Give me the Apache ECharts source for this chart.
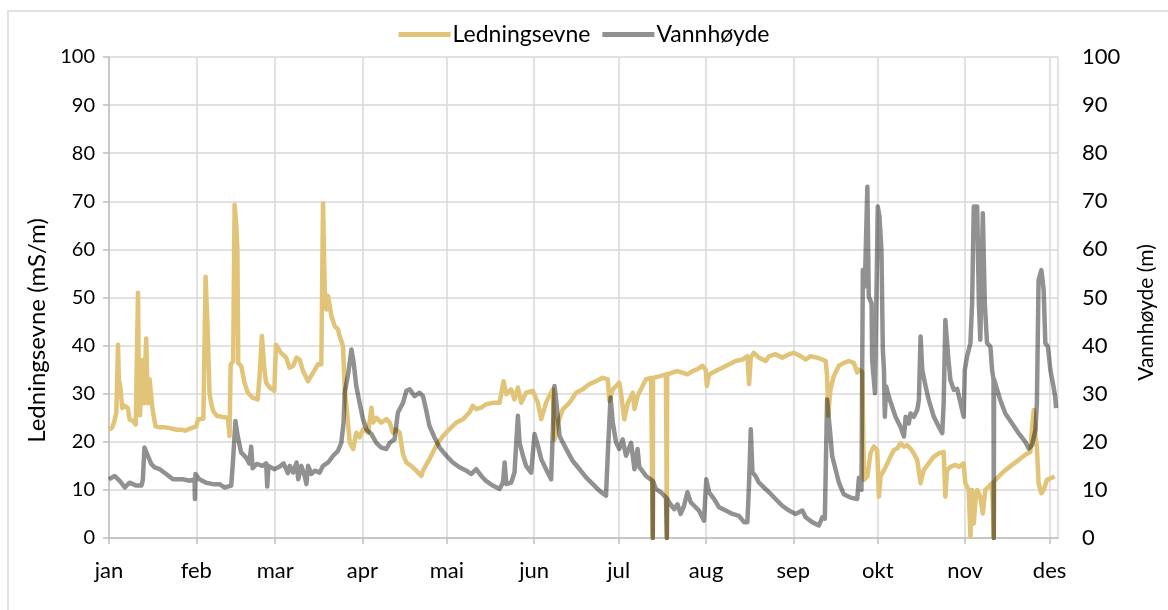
<!DOCTYPE html>
<html>
<head>
<meta charset="utf-8">
<title>Ledningsevne og vannhøyde</title>
<script src="https://cdn.jsdelivr.net/npm/echarts@6/dist/echarts.min.js"></script>
<style>
  html, body { margin: 0; padding: 0; background: #fff; }
  #chart { width: 1168px; height: 610px; }
</style>
</head>
<body>
<div id="chart"></div>
<script>
// x = dag i året (0 = 1. jan)
var months = ['jan', 'feb', 'mar', 'apr', 'mai', 'jun', 'jul', 'aug', 'sep', 'okt', 'nov', 'des']
var monthStart = [0, 31, 59, 90, 120, 151, 181, 212, 243, 273, 304, 334]

// Ledningsevne (mS/m), [dag, verdi]
var ledningsevne = [
  [0, 22.5], [1.2, 23], [2.0, 24.5], [2.6, 26], [3.2, 40.2], [3.5, 33], [4.0, 31.5], [4.7, 27],
  [5.6, 27.5], [6.7, 27], [7.3, 24.7], [8.5, 24.3], [9.5, 23.6], [10.0, 24], [10.3, 51], [10.6, 30],
  [11.0, 25.5], [11.8, 37], [12.4, 28], [13.2, 41.5], [13.8, 28], [14.4, 33], [15.4, 27], [16.5, 23.2],
  [18, 23], [20, 23], [22, 22.8], [24, 22.5], [26, 22.5], [27, 22.3], [29, 22.8], [31, 23.2],
  [31.6, 24.7], [33.5, 24.8], [34.3, 54.3], [35.0, 44], [35.7, 30], [36.3, 28], [37, 26.4], [38.2, 25.4],
  [40, 25.2], [42.2, 25], [42.8, 21.2], [43.2, 36], [44.1, 36.8], [44.6, 69.3], [45.2, 65], [45.6, 60],
  [45.9, 36.4], [47, 35.7], [48.1, 32.3], [49.3, 30.2], [51, 29.2], [52.8, 28.8], [53.4, 33], [54.3, 42],
  [55.2, 35], [55.8, 32.3], [57, 31.3], [58.7, 30.6], [59.3, 40.2], [61.1, 38.5], [62.9, 37.5], [64.1, 35.4],
  [65.4, 35.8], [66.6, 37.5], [67.7, 37.1], [68.9, 34.7], [70.7, 32.6], [72.5, 34.4], [74.2, 36.1], [75.4, 36.1],
  [76.0, 69.6], [76.6, 51.7], [77.2, 47.5], [77.8, 50.3], [79, 46.1], [80.2, 44], [81.3, 43.4], [81.9, 42],
  [83.1, 39.9], [83.7, 31], [84.3, 27.5], [85.5, 19.8], [86.7, 18.5], [87.8, 21.9], [89, 20.9], [90.2, 22.6],
  [92, 21.9], [93.2, 27.1], [93.8, 24], [94.9, 25], [96.7, 24], [98.5, 24.7], [99.7, 24], [100.8, 21.9],
  [102, 22.6], [103.2, 21.9], [104.4, 17.4], [105.6, 15.7], [107.3, 15], [109.1, 14], [110.9, 12.9], [111.5, 14],
  [113.8, 16.4], [116.2, 19.2], [118.6, 21.2], [120.9, 22.6], [123.3, 24], [125.7, 24.7], [128, 26.1], [129.2, 27.5],
  [130.4, 26.8], [132.2, 27.1], [133.9, 27.8], [136.3, 28.1], [138.7, 28.1], [140.1, 32.6], [141.1, 29.9], [142.8, 30.9],
  [144, 28.8], [145.2, 31.3], [146.4, 28.1], [148.1, 30.2], [150.5, 30.6], [152.3, 28.1], [153.5, 24.7], [155.2, 28.1],
  [156.4, 29.5], [157.6, 30.9], [158.2, 20.5], [159.4, 24], [161.2, 26.8], [163.5, 28.1], [165.9, 30.2], [168.2, 30.9],
  [170.6, 32], [173, 32.6], [175.3, 33.3], [177.1, 33], [177.7, 28.5], [178.9, 30.9], [180.1, 31.6], [181.2, 32.3],
  [181.8, 30.2], [183, 24.7], [184.2, 28], [186, 30.2], [186.6, 26.8], [187.7, 29.5], [189.5, 31.6], [190.7, 33],
  [192.5, 33.3], [193.0, 33.3], [193.1, 0], [193.2, 33.3], [196.0, 33.7], [197.8, 34], [198.0, 34], [198.1, 0],
  [198.2, 34], [200.1, 34.4], [201.9, 34.7], [203.6, 34.4], [205.4, 34], [207.2, 34.7], [209, 35.1], [210.7, 35.8],
  [211.9, 35], [212.3, 31.6], [213.1, 34], [215.4, 34.7], [217.8, 35.4], [220.2, 36.1], [222.5, 36.8], [224.9, 37.1],
  [226.7, 37.8], [227.3, 32], [227.9, 37.5], [229.0, 38.5], [230.8, 37.5], [233.2, 36.8], [234.4, 37.8], [236.7, 38.2],
  [239.1, 37.5], [241.5, 38.2], [243.2, 38.5], [245.6, 37.8], [247.4, 37.1], [249.1, 37.8], [251.5, 37.5], [253.3, 37.1],
  [254.5, 36.8], [255, 33.7], [255.4, 25.4], [256.2, 30.9], [257.4, 33.7], [259.2, 35.8], [261, 36.4], [262.7, 36.8],
  [264.5, 36.4], [265.7, 34.4], [266.3, 35], [267.5, 34.5], [268.1, 12.1], [269.3, 12.8], [270.4, 17.6], [271.6, 19],
  [272.8, 18.3], [273.4, 8.6], [274, 12.8], [275.2, 14.1], [276.4, 15.5], [277.5, 16.9], [278.7, 18.3], [279.9, 18.6],
  [281.1, 19.7], [282.3, 19], [283.4, 19.3], [284.6, 18.6], [285.8, 17.6], [287, 16.2], [288.2, 11.4], [289.3, 14.1],
  [291.1, 15.5], [292.9, 16.9], [294.7, 17.6], [296.4, 17.9], [297, 8.6], [297.6, 14.1], [298.8, 14.8], [300.6, 15.2],
  [301.8, 14.8], [303.5, 15.5], [304.1, 11.4], [305.3, 10], [305.9, 0.3], [306.5, 10], [307.1, 3], [307.7, 7.9],
  [308.3, 10], [309.4, 8.6], [310.3, 5.1], [311.2, 10], [312.4, 10.7], [313.6, 11.4], [314.1, 11.5], [314.2, 0],
  [314.3, 11.6], [314.8, 12.1], [316.5, 13.1], [318.3, 14.1], [320.7, 15.2], [323, 16.2], [325.4, 17.3], [327.2, 17.9],
  [327.8, 23.1], [328.4, 26.6], [329, 21.1], [329.5, 19], [330.1, 11.4], [331.1, 9.3], [331.9, 10], [333.1, 12.1],
  [334.3, 12.4], [335.8, 12.8]
]

// Vannhøyde (m), [dag, verdi]
var vannhoyde = [
  [0, 12.2], [2.0, 12.9], [3.8, 11.9], [5.6, 10.5], [7.3, 11.5], [9.7, 10.9], [11.5, 10.9], [12.0, 12],
  [12.6, 18.8], [13.8, 17.1], [15, 15.4], [16.2, 14.7], [18, 14.3], [20.3, 13.3], [22.7, 12.2], [26.2, 12.2],
  [28.6, 11.9], [30.4, 12.2], [30.5, 8.1], [30.7, 13.3], [32.1, 12.2], [34.5, 11.5], [36.9, 11.2], [39.2, 11.2],
  [41, 10.5], [43.4, 10.9], [44, 15.7], [44.9, 24.3], [45.7, 21.2], [46.9, 17.8], [48.7, 16.7], [49.8, 15.5],
  [50.5, 19], [51.0, 14.5], [52.5, 15.4], [54.5, 15], [55.8, 15.5], [56.2, 10.7], [56.6, 15], [58.7, 14.3],
  [60.5, 14.8], [62, 15.5], [63.5, 13.5], [64.2, 15], [65.4, 13.6], [66.6, 15.7], [67.2, 12.2], [68.3, 15],
  [69.5, 12.9], [70.1, 11.2], [70.7, 15], [71.9, 13.3], [73.1, 14], [74.8, 13.6], [76, 15], [77.8, 15.7],
  [79.6, 17.1], [81.3, 18.1], [82.5, 19.8], [83.3, 24], [83.7, 30.2], [84.9, 34], [86.1, 39.2], [86.9, 36.4],
  [87.8, 31.6], [89, 28.1], [90.2, 24.7], [91.4, 22.6], [93.2, 21.6], [94.9, 19.8], [96.7, 18.8], [98.5, 18.5],
  [99.7, 19.8], [101.4, 20.5], [102.6, 26.1], [104.4, 28.1], [105.6, 30.6], [106.8, 30.9], [108.5, 29.5], [110.3, 30.2],
  [111.5, 29.5], [112.7, 26.4], [113.8, 23.3], [115.6, 20.9], [117.4, 18.8], [119.8, 17.1], [122.1, 15.7], [124.5, 14.7],
  [126.9, 14], [128.6, 13.3], [130.4, 14.3], [132.2, 12.9], [134, 11.8], [136.3, 10.9], [138.7, 10.2], [139.9, 11.5],
  [140.5, 15.7], [141.1, 11.2], [142.8, 11.5], [144, 13.6], [145.2, 25.4], [145.8, 19.8], [147, 17.1], [148.1, 15],
  [149.9, 13.6], [151.1, 21.6], [152.3, 19.2], [153.5, 16.4], [155.2, 14.3], [157, 12.2], [158.2, 31.6], [159, 27.5],
  [160, 21.2], [161.2, 19.8], [163, 17.8], [164.7, 16], [167.1, 14.3], [169.4, 12.6], [171.8, 11.2], [174.2, 9.8],
  [176.5, 8.8], [177.1, 17.1], [178.1, 29.2], [178.9, 24], [180.1, 19.8], [181.2, 18.5], [182.4, 20.5], [183.6, 17.1],
  [185.4, 19.8], [186.6, 14.3], [187.7, 18.5], [188.3, 14.8], [190.7, 12.9], [193.0, 11.9], [193.1, 0], [193.2, 11.8],
  [194.2, 10.2], [196, 9.5], [197.8, 8.4], [198.0, 8.3], [198.1, 0], [198.2, 8.2], [198.9, 7.4], [200.7, 6],
  [201.9, 7], [203.0, 5], [204.2, 6.7], [205.4, 9.5], [206.6, 7.4], [207.8, 6.7], [209.5, 5.7], [211.3, 3.6],
  [212.1, 12.2], [213.1, 9.5], [214.9, 8.1], [216.6, 6.4], [219, 5.7], [221.4, 5], [223.7, 4.6], [225.5, 3.3],
  [226.7, 3.3], [227.3, 11.5], [227.9, 22.6], [228.5, 13.6], [229.6, 12.9], [230.8, 11.5], [232.6, 10.5], [234.4, 9.5],
  [236.7, 8.1], [239.1, 6.7], [241.5, 5.7], [243.8, 5], [246.2, 5.7], [247.4, 4.3], [249.7, 3.3], [252.1, 2.6],
  [253.3, 4.3], [254.2, 4], [255, 28.8], [256.2, 21.2], [256.8, 17.1], [258, 14.3], [259.2, 11.5], [260.9, 9.1],
  [263.3, 8.4], [265.7, 8.1], [266.3, 12.5], [267.2, 10], [267.7, 55.7], [268.4, 52.3], [269.3, 73], [269.8, 50.2],
  [270.8, 48.8], [271, 37], [272, 30.1], [272.4, 30], [273, 68.9], [273.6, 66.8], [274.3, 59.9], [274.8, 39.1],
  [275.2, 34.9], [275.5, 25.2], [276, 31.5], [276.9, 29.4], [278.1, 27.3], [279.3, 25.2], [281.1, 23.1], [282.3, 21.1],
  [282.9, 25.2], [284, 23.8], [284.6, 25.9], [285.8, 25.2], [287, 26.6], [287.6, 28.7], [288.2, 41.9], [288.8, 34.9],
  [290, 31.5], [291.1, 28.7], [292.9, 25.2], [294.7, 23.1], [295.9, 21.8], [296.4, 28], [297, 45.3], [298, 37.7],
  [298.8, 32.8], [300, 30.8], [301.2, 31], [302.4, 28], [303.5, 25.2], [303.9, 34.9], [304.7, 37.7], [305.9, 40.5],
  [306.5, 48.8], [307.1, 68.9], [308.3, 68.9], [308.9, 48.8], [309.4, 41.2], [310.3, 67.5], [311, 48.8], [311.8, 40.5],
  [313, 39.8], [313.6, 34.9], [314.1, 33], [314.2, 0], [314.3, 33], [315.4, 30.8], [316.5, 28.7], [318.3, 25.9],
  [320.7, 23.8], [323, 21.8], [325.4, 20], [326.6, 18.6], [327.8, 19.3], [329, 22.5], [329.5, 28], [330.1, 53.6],
  [331.1, 55.7], [331.9, 51.6], [332.5, 40.5], [333.4, 39.8], [334.3, 34.9], [335.4, 31.5], [336, 29.4], [336.3, 27]
]

var font = 'Lato, "Open Sans", sans-serif'
var gridColor = '#d9d9d9'

var chart = echarts.init(document.getElementById('chart'))
chart.setOption({
  animation: false,
  textStyle: { fontFamily: font, color: '#000' },
  graphic: [
    {
      type: 'rect',
      shape: { x: 8, y: 11, width: 1180, height: 620 },
      style: { fill: 'none', stroke: gridColor, lineWidth: 1.5 },
      silent: true
    }
  ],
  legend: {
    top: 18,
    left: 'center',
    icon: 'rect',
    itemWidth: 52,
    itemHeight: 5,
    itemGap: 12,
    textStyle: { fontFamily: font, fontSize: 23, color: '#000', padding: [0, 0, 0, -3] },
    data: ['Ledningsevne', 'Vannhøyde']
  },
  grid: { left: 109, right: 110, top: 57, bottom: 72 },
  xAxis: {
    type: 'value',
    min: 0,
    max: 337,
    axisLine: { show: true, onZero: false, lineStyle: { color: '#bfbfbf', width: 1.5 } },
    axisTick: { show: true, length: 6, customValues: monthStart, lineStyle: { color: '#bfbfbf', width: 1.5 } },
    axisLabel: {
      customValues: monthStart,
      margin: 22,
      fontSize: 22,
      fontFamily: font,
      color: '#000',
      formatter: function (v) {
        var i = monthStart.indexOf(Math.round(v))
        return i >= 0 ? months[i] : ''
      }
    },
    splitLine: { show: true, lineStyle: { color: gridColor, width: 1.5 } }
  },
  yAxis: [
    {
      type: 'value',
      min: 0,
      max: 100,
      interval: 10,
      name: 'Ledningsevne (mS/m)',
      nameLocation: 'middle',
      nameRotate: 90,
      nameGap: 57,
      nameTextStyle: { fontFamily: font, fontSize: 24, color: '#000', padding: [0, 66, 0, 0] },
      axisLine: { show: true, lineStyle: { color: '#bfbfbf', width: 1.5 } },
      axisTick: { show: true, length: 6, lineStyle: { color: '#bfbfbf', width: 1.5 } },
      axisLabel: { margin: 14, fontSize: 20, fontFamily: font, color: '#000' },
      splitLine: { show: true, lineStyle: { color: gridColor, width: 1.5 } }
    },
    {
      type: 'value',
      min: 0,
      max: 100,
      interval: 10,
      position: 'right',
      name: 'Vannhøyde (m)',
      nameLocation: 'middle',
      nameRotate: 90,
      nameGap: 78,
      nameTextStyle: { fontFamily: font, fontSize: 21, color: '#000', padding: [0, 30, 0, 0] },
      axisLine: { show: true, lineStyle: { color: gridColor, width: 1.5 } },
      axisTick: { show: false },
      axisLabel: { margin: 24, fontSize: 22, fontFamily: font, color: '#000' },
      splitLine: { show: false }
    }
  ],
  series: [
    {
      name: 'Ledningsevne',
      type: 'line',
      yAxisIndex: 0,
      showSymbol: false,
      data: ledningsevne,
      itemStyle: { color: '#e1c477' },
      lineStyle: { color: '#e1c477', width: 4.5, join: 'round' }
    },
    {
      name: 'Vannhøyde',
      type: 'line',
      yAxisIndex: 1,
      showSymbol: false,
      data: vannhoyde,
      itemStyle: { color: 'rgba(0,0,0,0.43)' },
      lineStyle: { color: 'rgba(0,0,0,0.43)', width: 4.5, join: 'round' }
    }
  ]
})
</script>
</body>
</html>
